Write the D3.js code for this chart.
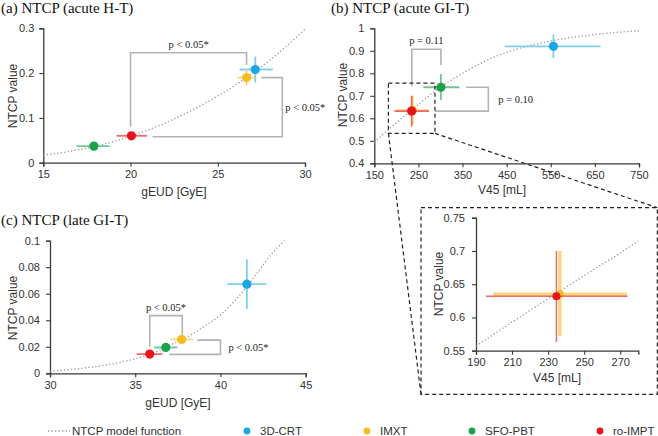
<!DOCTYPE html>
<html><head><meta charset="utf-8">
<script src="https://cdn.jsdelivr.net/npm/d3@7"></script>
<style>
body{margin:0;background:#fff;}
svg{display:block;}
.sans{font-family:"Liberation Sans",Arial,sans-serif;}
.serif{font-family:"Liberation Serif","Times New Roman",serif;}
</style></head>
<body>
<svg id="c" width="658" height="436"></svg>
<script>
// ---------- data ----------
const methods = ["3D-CRT", "IMXT", "SFO-PBT", "ro-IMPT"];

// (a) acute H-T  (gEUD [GyE], NTCP)
const aX   = [27.15, 26.65, 17.9, 20.05];
const aY   = [0.208, 0.190, 0.037, 0.060];
const aXlo = [26.25, 26.1, 16.9, 19.2];
const aXhi = [28.15, 27.15, 18.8, 20.95];
const aYlo = [0.179, 0.172, 0.033, 0.053];
const aYhi = [0.237, 0.208, 0.041, 0.067];
const aCurveX = [15,16,17,18,19,20,21,22,23,24,25,26,27,28,29,30];
const aCurveY = [0.017,0.022,0.029,0.037,0.047,0.059,0.073,0.089,0.107,0.127,0.149,0.173,0.200,0.229,0.262,0.298];

// (b) acute GI-T  (V45 [mL], NTCP)
const bX   = [556, 236.5, 301, 234.6];
const bY   = [0.920, 0.635, 0.738, 0.632];
const bXlo = [446, 199.6, 261, 195.5];
const bXhi = [663, 273.7, 343, 274];
const bYlo = [0.867, 0.572, 0.681, 0.563];
const bYhi = [0.973, 0.700, 0.797, 0.700];
const bCurveX = [150,200,250,300,350,400,450,500,550,600,650,700,750];
const bCurveY = [0.494,0.580,0.662,0.738,0.800,0.853,0.893,0.922,0.944,0.960,0.972,0.982,0.989];
const insetCurveX = [190,210,230,250,270,280];
const insetCurveY = [0.557,0.593,0.628,0.663,0.697,0.715];

// (c) late GI-T  (gEUD [GyE], NTCP)
const cX   = [41.55, 37.72, 36.79, 35.85];
const cY   = [0.0672, 0.0255, 0.0195, 0.0145];
const cXlo = [40.4, 37.07, 36.1, 35.08];
const cXhi = [42.7, 38.4, 37.47, 36.59];
const cYlo = [0.0485, 0.0225, 0.0170, 0.0120];
const cYhi = [0.0860, 0.0290, 0.0225, 0.0175];
const cCurveX = [30,32,34,35,36,37,38,39,40,41,42,43,43.75];
const cCurveY = [0.0015,0.004,0.008,0.011,0.015,0.021,0.027,0.035,0.044,0.057,0.073,0.090,0.100];

// ticks
const aXTicks = [15,20,25,30], aYTicks = [0,0.1,0.2,0.3];
const bXTicks = [150,250,350,450,550,650,750], bYTicks = [0.4,0.5,0.6,0.7,0.8,0.9,1];
const cXTicks = [30,35,40,45], cYTicks = [0,0.02,0.04,0.06,0.08,0.1];
const iXTicks = [190,210,230,250,270], iYTicks = [0.55,0.6,0.65,0.7,0.75];

// significance brackets (data coords) and labels
const aBrackets = [
  {pts:[[20,0.080],[20,0.2455],[26.65,0.2455],[26.65,0.218]], label:"p < 0.05*", lx:23.33, ly:0.2455, pos:"top"},
  {pts:[[21.26,0.058],[28.7,0.058],[28.7,0.19],[27.5,0.19]], label:"p < 0.05*", lx:28.7, ly:0.124, pos:"right"}
];
const bBrackets = [
  {pts:[[235,0.742],[235,0.907],[301,0.907],[301,0.837]], label:"p = 0.11", lx:268, ly:0.907, pos:"top"},
  {pts:[[358,0.738],[408.5,0.738],[408.5,0.632],[287.5,0.632]], label:"p = 0.10", lx:408.5, ly:0.685, pos:"right"}
];
const cBrackets = [
  {pts:[[35.85,0.020],[35.85,0.0435],[37.76,0.0435],[37.76,0.029]], label:"p < 0.05*", lx:36.8, ly:0.0435, pos:"top"},
  {pts:[[37.0,0.0143],[40,0.0143],[40,0.025],[38.64,0.025]], label:"p < 0.05*", lx:40, ly:0.0197, pos:"right"}
];
const zoomBox = {x0:182, x1:287.5, y0:0.533, y1:0.756};

// ---------- styles ----------
const dotColors = ["#1aa7e3","#f6bd22","#18a24a","#e8141b"];
const errColors = ["#6cc5ec","#f7cf6a","#5cbb80","#ea5454"];
const axisColor = "#3a3a3a";
const textColor = "#333";
const bracketColor = "#b3b3b3";
const curveColor = "#9a9a9a";

const svg = d3.select("#c");

function panel(cfg){
  const x = d3.scaleLinear().domain(cfg.xd).range(cfg.xr);
  const y = d3.scaleLinear().domain(cfg.yd).range(cfg.yr);
  const g = svg.append("g");
  // axes
  const xa = g.append("g").attr("transform",`translate(0,${cfg.yr[0]})`)
    .call(d3.axisBottom(x).tickValues(cfg.xt).tickSize(4).tickPadding(4).tickFormat(cfg.xf||d3.format("")));
  const ya = g.append("g").attr("transform",`translate(${cfg.xr[0]},0)`)
    .call(d3.axisLeft(y).tickValues(cfg.yt).tickSize(4).tickPadding(cfg.ypad||5).tickFormat(cfg.yf||(d=>d)));
  [xa,ya].forEach(a=>{
    a.select(".domain").attr("stroke",axisColor).attr("stroke-width",1.3);
    a.selectAll(".tick line").attr("stroke",axisColor).attr("stroke-width",1.1);
    a.selectAll("text").attr("class","sans").attr("font-size",11).attr("fill",textColor);
  });
  // labels
  g.append("text").attr("class","sans").attr("font-size",12).attr("fill",textColor)
    .attr("text-anchor","middle").attr("x",cfg.xlx).attr("y",cfg.xly).text(cfg.xlabel);
  g.append("text").attr("class","sans").attr("font-size",12).attr("fill",textColor)
    .attr("text-anchor","middle").attr("transform",`translate(${cfg.ylx},${cfg.yly}) rotate(-90)`)
    .attr("dy","0.35em").text("NTCP value");
  if(cfg.title){
    g.append("text").attr("class","serif").attr("font-size",15).attr("fill","#111")
      .attr("x",cfg.tx).attr("y",cfg.ty).text(cfg.title);
  }
  // curve
  const cd = cfg.cx.map((v,i)=>[v,cfg.cy[i]]);
  g.append("path").datum(cd)
    .attr("d",d3.line().x(d=>x(d[0])).y(d=>y(d[1])).curve(d3.curveMonotoneX))
    .attr("fill","none").attr("stroke",curveColor).attr("stroke-width",1.3)
    .attr("stroke-dasharray","1.3,2.2");
  // brackets
  (cfg.br||[]).forEach(b=>{
    g.append("path").datum(b.pts)
      .attr("d",d3.line().x(d=>x(d[0])).y(d=>y(d[1])))
      .attr("fill","none").attr("stroke",bracketColor).attr("stroke-width",1.6);
    const t = g.append("text").attr("class","serif").attr("font-size",10.5).attr("fill","#222").text(b.label);
    if(b.pos==="top"){
      t.attr("text-anchor","middle").attr("x",x(b.lx)).attr("y",y(b.ly)-5);
    } else {
      t.attr("text-anchor","start").attr("x",x(b.lx)+(cfg.rgap||4)).attr("y",y(b.ly)).attr("dy","0.35em");
    }
  });
  // points
  const order = cfg.order || [0,1,2,3];
  order.forEach(i=>{
    if(cfg.skip && cfg.skip.includes(i)) return;
    const w = (cfg.errW && cfg.errW[i]) || 1.8;
    g.append("line").attr("x1",x(cfg.xlo[i])).attr("x2",x(cfg.xhi[i])).attr("y1",y(cfg.py[i])).attr("y2",y(cfg.py[i]))
      .attr("stroke",errColors[i]).attr("stroke-width",w).attr("stroke-opacity",0.85);
    g.append("line").attr("x1",x(cfg.px[i])).attr("x2",x(cfg.px[i])).attr("y1",y(cfg.ylo[i])).attr("y2",y(cfg.yhi[i]))
      .attr("stroke",errColors[i]).attr("stroke-width",w).attr("stroke-opacity",0.85);
    g.append("circle").attr("cx",x(cfg.px[i])).attr("cy",y(cfg.py[i])).attr("r",cfg.r||4.6)
      .attr("fill",dotColors[i]);
  });
  return {x,y,g};
}

// (a)
panel({xd:[15,30],xr:[43.3,305],yd:[0,0.3],yr:[162.7,28.3],xt:aXTicks,yt:aYTicks,
  yf:d=>d===0?"0":d3.format(".1f")(d),
  xlabel:"gEUD [GyE]",xlx:174,xly:196,ylx:13,yly:96,title:"(a) NTCP (acute H-T)",tx:1,ty:13,
  cx:aCurveX,cy:aCurveY,br:aBrackets,px:aX,py:aY,xlo:aXlo,xhi:aXhi,ylo:aYlo,yhi:aYhi,rgap:3});

// (b)
const B = panel({xd:[150,750],xr:[374.3,639],yd:[0.4,1],yr:[163.3,28.3],xt:bXTicks,yt:bYTicks,ypad:6,
  yf:d=>d===1?"1":d3.format(".1f")(d),
  xlabel:"V45 [mL]",xlx:502,xly:194,ylx:343,yly:95,title:"(b) NTCP (acute GI-T)",tx:331,ty:13,
  cx:bCurveX,cy:bCurveY,br:bBrackets,px:bX,py:bY,xlo:bXlo,xhi:bXhi,ylo:bYlo,yhi:bYhi,rgap:10,
  errW:[1.8,2.6,1.8,1.6]});

// (c)
panel({xd:[30,45],xr:[50,305.7],yd:[0,0.1],yr:[373.3,240.7],xt:cXTicks,yt:cYTicks,ypad:6,
  yf:d=>d===0?"0":d3.format(".2~f")(d),
  xlabel:"gEUD [GyE]",xlx:178,xly:407,ylx:13,yly:308,title:"(c) NTCP (late GI-T)",tx:1,ty:225,
  cx:cCurveX,cy:cCurveY,br:cBrackets,px:cX,py:cY,xlo:cXlo,xhi:cXhi,ylo:cYlo,yhi:cYhi,rgap:8});

// inset (zoom of b)
const insetFrame = {l:421, t:207.7, r:657.3, b:394.3};
panel({xd:[190,280],xr:[476,638.3],yd:[0.55,0.75],yr:[350.7,217.7],xt:iXTicks,yt:iYTicks,ypad:7,
  yf:d=>d3.format(".2~f")(d),
  xlabel:"V45 [mL]",xlx:557,xly:382,ylx:439,yly:284,
  cx:insetCurveX,cy:insetCurveY,br:[],px:bX,py:bY,xlo:bXlo,xhi:bXhi,ylo:bYlo,yhi:bYhi,
  skip:[0,2],errW:[1.8,3.4,1.8,1.5],r:4});

// zoom box + connectors
const dash = {stroke:"#222","stroke-width":1.2,"stroke-dasharray":"4,3",fill:"none"};
function sty(s){Object.entries(dash).forEach(([k,v])=>s.attr(k,v));return s;}
const zx0=B.x(zoomBox.x0), zx1=B.x(zoomBox.x1), zy0=B.y(zoomBox.y1), zy1=B.y(zoomBox.y0);
sty(svg.append("rect").attr("x",zx0).attr("y",zy0).attr("width",zx1-zx0).attr("height",zy1-zy0));
sty(svg.append("rect").attr("x",insetFrame.l).attr("y",insetFrame.t)
  .attr("width",insetFrame.r-insetFrame.l).attr("height",insetFrame.b-insetFrame.t));
sty(svg.append("line").attr("x1",zx0).attr("y1",zy1).attr("x2",insetFrame.l).attr("y2",insetFrame.b));
sty(svg.append("line").attr("x1",zx1).attr("y1",zy1).attr("x2",insetFrame.r).attr("y2",insetFrame.t));

// legend
const ly = 431;
svg.append("line").attr("x1",48).attr("x2",70).attr("y1",ly).attr("y2",ly)
  .attr("stroke",curveColor).attr("stroke-width",1.3).attr("stroke-dasharray","1.3,2.2");
svg.append("text").attr("class","sans").attr("font-size",11.5).attr("fill",textColor)
  .attr("x",72).attr("y",ly).attr("dy","0.35em").text("NTCP model function");
const legX = [247, 367, 472, 600];
methods.forEach((m,i)=>{
  svg.append("circle").attr("cx",legX[i]).attr("cy",ly).attr("r",3.4).attr("fill",dotColors[i]);
  svg.append("text").attr("class","sans").attr("font-size",11.5).attr("fill",textColor)
    .attr("x",legX[i]+13).attr("y",ly).attr("dy","0.35em").text(m);
});
</script>
</body></html>
